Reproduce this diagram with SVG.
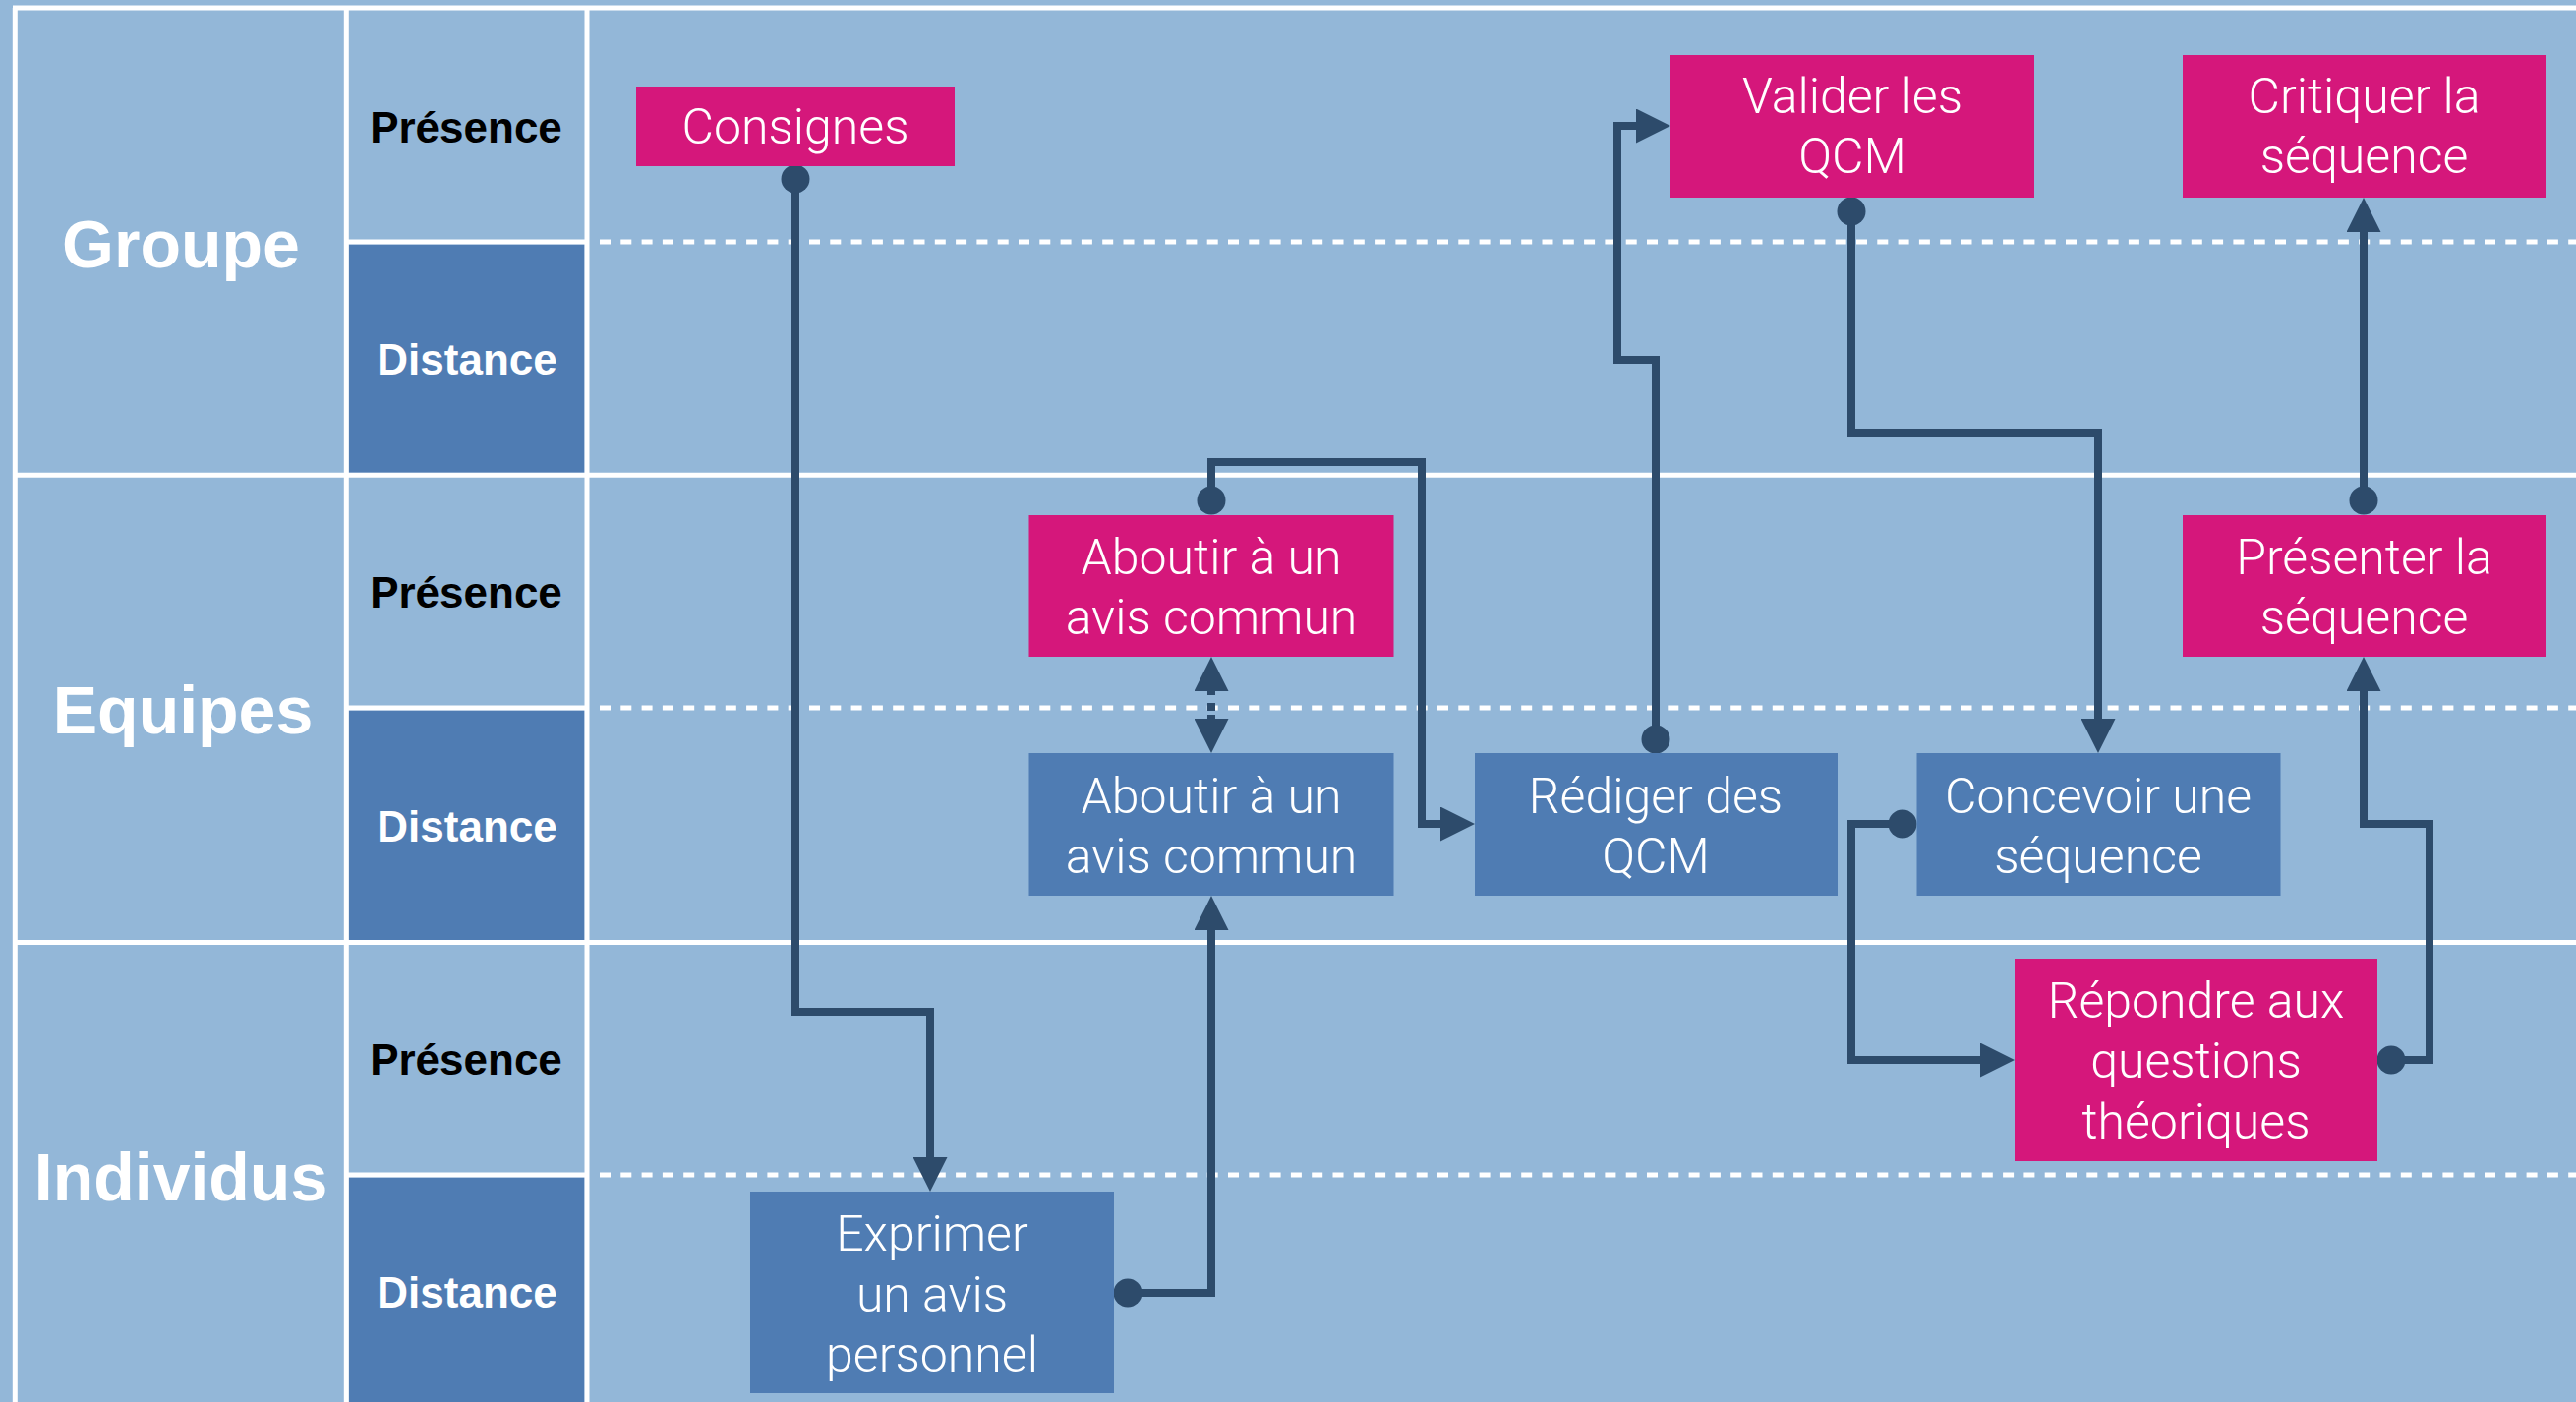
<svg xmlns="http://www.w3.org/2000/svg" width="2620" height="1426" viewBox="0 0 2620 1426">
<style>
.bg{fill:#93B7D8}
.dist{fill:#4F7CB3}
.wl{stroke:#FFFFFF;stroke-width:5;fill:none}
.dash{stroke:#FFFFFF;stroke-width:5;stroke-dasharray:11 10.3;fill:none}
.lbl{font-family:"Liberation Sans",Arial,Helvetica,sans-serif;font-weight:bold;font-size:68px;fill:#FFFFFF;text-anchor:middle}
.mode{font-family:"Liberation Sans",Arial,Helvetica,sans-serif;font-weight:bold;font-size:44px;text-anchor:middle}
.pres{fill:#000000}
.dst{fill:#FFFFFF}
.mag{fill:#D5177B}
.blu{fill:#4F7CB3}
.nt{font-family:Roboto,"Liberation Sans",Arial,sans-serif;font-weight:300;font-size:50px;fill:#FFFFFF;text-anchor:middle}
.conn{fill:none;stroke:#2D4B6B;stroke-width:8}
</style>
<defs>
<marker id="arr" markerUnits="userSpaceOnUse" markerWidth="35" markerHeight="35" viewBox="0 0 35 35" refX="20" refY="17.5" orient="auto"><path d="M0,0 L35,17.5 L0,35 z" fill="#2D4B6B"/></marker>
<marker id="arr2" markerUnits="userSpaceOnUse" markerWidth="35" markerHeight="35" viewBox="0 0 35 35" refX="20" refY="17.5" orient="auto-start-reverse"><path d="M0,0 L35,17.5 L0,35 z" fill="#2D4B6B"/></marker>
<marker id="dot" markerUnits="userSpaceOnUse" markerWidth="30" markerHeight="30" viewBox="0 0 30 30" refX="15" refY="15" orient="0"><circle cx="15" cy="15" r="14.5" fill="#2D4B6B"/></marker>
</defs>

<g id="grid">
<rect class="bg" x="0" y="0" width="2620" height="1426"/>
<rect class="dist" x="354.8" y="248.5" width="239.7" height="232.3"/>
<rect class="dist" x="354.8" y="722.5" width="239.7" height="233.5"/>
<rect class="dist" x="354.8" y="1197.5" width="239.7" height="228.5"/>
<line class="wl" x1="13" y1="8" x2="2620" y2="8"/>
<line class="wl" x1="15.3" y1="8" x2="15.3" y2="1426"/>
<line class="wl" x1="352.3" y1="8" x2="352.3" y2="1426"/>
<line class="wl" x1="597" y1="8" x2="597" y2="1426"/>
<line class="wl" x1="13" y1="483.3" x2="2620" y2="483.3"/>
<line class="wl" x1="13" y1="958.5" x2="2620" y2="958.5"/>
<line class="wl" x1="352.3" y1="246" x2="597" y2="246"/>
<line class="wl" x1="352.3" y1="720" x2="597" y2="720"/>
<line class="wl" x1="352.3" y1="1195" x2="597" y2="1195"/>
<line class="dash" x1="610" y1="246" x2="2620" y2="246"/>
<line class="dash" x1="610" y1="720" x2="2620" y2="720"/>
<line class="dash" x1="610" y1="1195" x2="2620" y2="1195"/>
</g>

<g id="labels">
<text class="lbl" x="184" y="272">Groupe</text>
<text class="lbl" x="186" y="746">Equipes</text>
<text class="lbl" x="184" y="1221">Individus</text>
<text class="mode pres" x="474" y="145">Présence</text>
<text class="mode dst" x="475" y="381">Distance</text>
<text class="mode pres" x="474" y="618">Présence</text>
<text class="mode dst" x="475" y="856">Distance</text>
<text class="mode pres" x="474" y="1093">Présence</text>
<text class="mode dst" x="475" y="1330">Distance</text>
</g>

<g id="connectors">
<path class="conn" d="M809,182 V1029 H946 V1197" marker-start="url(#dot)" marker-end="url(#arr)"/>
<path class="conn" d="M1147,1315 H1232 V926" marker-start="url(#dot)" marker-end="url(#arr)"/>
<path class="conn" d="M1232,751 V683" stroke-dasharray="24 4 8 8 40" marker-start="url(#arr2)" marker-end="url(#arr2)"/>
<path class="conn" d="M1232,509 V470 H1446 V838 H1485" marker-start="url(#dot)" marker-end="url(#arr)"/>
<path class="conn" d="M1684,752 V366 H1645 V128 H1684" marker-start="url(#dot)" marker-end="url(#arr)"/>
<path class="conn" d="M1883,215 V440 H2134 V751" marker-start="url(#dot)" marker-end="url(#arr)"/>
<path class="conn" d="M1935,838 H1883 V1078 H2034" marker-start="url(#dot)" marker-end="url(#arr)"/>
<path class="conn" d="M2432,1078 H2471 V838 H2404 V683" marker-start="url(#dot)" marker-end="url(#arr)"/>
<path class="conn" d="M2404,509 V216" marker-start="url(#dot)" marker-end="url(#arr)"/>
</g>

<g id="consignes">
<rect class="mag" x="647" y="88" width="324" height="81"/>
<text class="nt" x="809" y="146">Consignes</text>
</g>
<g id="valider">
<rect class="mag" x="1699" y="56" width="370" height="145"/>
<text class="nt" x="1884" y="115">Valider les</text>
<text class="nt" x="1884" y="176">QCM</text>
</g>
<g id="critiquer">
<rect class="mag" x="2220" y="56" width="369" height="145"/>
<text class="nt" x="2404.5" y="115">Critiquer la</text>
<text class="nt" x="2404.5" y="176">séquence</text>
</g>
<g id="aboutir-presence">
<rect class="mag" x="1046.5" y="524" width="371" height="144"/>
<text class="nt" x="1232" y="584">Aboutir à un</text>
<text class="nt" x="1232" y="645">avis commun</text>
</g>
<g id="presenter">
<rect class="mag" x="2220" y="524" width="369" height="144"/>
<text class="nt" x="2404.5" y="584">Présenter la</text>
<text class="nt" x="2404.5" y="645">séquence</text>
</g>
<g id="aboutir-distance">
<rect class="blu" x="1046.5" y="766" width="371" height="145"/>
<text class="nt" x="1232" y="827">Aboutir à un</text>
<text class="nt" x="1232" y="888">avis commun</text>
</g>
<g id="rediger">
<rect class="blu" x="1500" y="766" width="369" height="145"/>
<text class="nt" x="1684" y="827">Rédiger des</text>
<text class="nt" x="1684" y="888">QCM</text>
</g>
<g id="concevoir">
<rect class="blu" x="1949.5" y="766" width="370" height="145"/>
<text class="nt" x="2134" y="827">Concevoir une</text>
<text class="nt" x="2134" y="888">séquence</text>
</g>
<g id="repondre">
<rect class="mag" x="2049" y="975" width="369" height="206"/>
<text class="nt" x="2233.5" y="1035">Répondre aux</text>
<text class="nt" x="2233.5" y="1096">questions</text>
<text class="nt" x="2233.5" y="1158">théoriques</text>
</g>
<g id="exprimer">
<rect class="blu" x="763" y="1212" width="370" height="205"/>
<text class="nt" x="948" y="1272">Exprimer</text>
<text class="nt" x="948" y="1334">un avis</text>
<text class="nt" x="948" y="1395">personnel</text>
</g>
</svg>
